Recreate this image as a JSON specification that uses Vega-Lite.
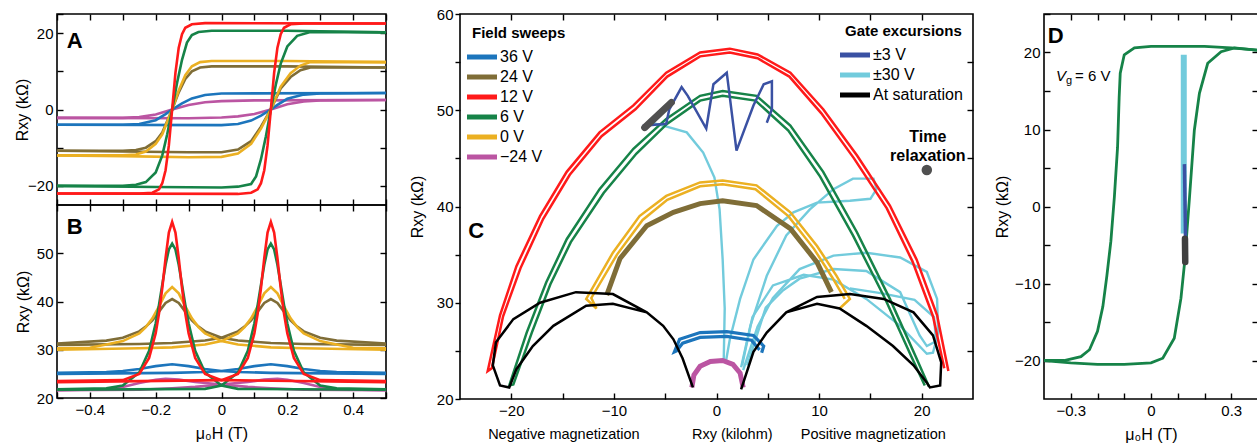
{
"$schema":"https://vega.github.io/schema/vega-lite/v6.json",
"background":"white",
"padding":{"left":13,"top":6,"right":0,"bottom":0},
"config":{
 "font":"Liberation Sans",
 "view":{"stroke":"black","strokeWidth":1.6},
 "axis":{"domain":false,"grid":false,"tickColor":"black","tickWidth":1.4,"tickSize":-6,"labelFontSize":15,"labelColor":"black","labelPadding":10,"labelFlush":false,"labelOverlap":false,"titleFontSize":16,"titleFontWeight":"normal","titleColor":"black"},
 "legend":{"symbolType":"M-2,0H2","symbolSize":225,"symbolStrokeWidth":5,"labelFontSize":16,"labelColor":"black","titleFontSize":15,"titleFontWeight":"bold","titleColor":"black","rowPadding":0,"titlePadding":6,"labelOffset":8,"padding":0}
},
"datasets":{
"dA":[
{"s":"−24 V","b":"d","x":-0.5,"y":-2.2},{"s":"−24 V","b":"d","x":-0.3,"y":-2.2},{"s":"−24 V","b":"d","x":-0.25,"y":-2},{"s":"−24 V","b":"d","x":-0.2,"y":-1.3},{"s":"−24 V","b":"d","x":-0.15,"y":0},{"s":"−24 V","b":"d","x":-0.1,"y":1.2},{"s":"−24 V","b":"d","x":-0.05,"y":1.9},{"s":"−24 V","b":"d","x":0,"y":2.2},{"s":"−24 V","b":"d","x":0.1,"y":2.4},{"s":"−24 V","b":"d","x":0.5,"y":2.5},
{"s":"−24 V","b":"u","x":-0.5,"y":-2.2},{"s":"−24 V","b":"u","x":-0.1,"y":-2.3},{"s":"−24 V","b":"u","x":0,"y":-2.1},{"s":"−24 V","b":"u","x":0.05,"y":-1.8},{"s":"−24 V","b":"u","x":0.1,"y":-1.2},{"s":"−24 V","b":"u","x":0.15,"y":0},{"s":"−24 V","b":"u","x":0.2,"y":1.4},{"s":"−24 V","b":"u","x":0.25,"y":2.1},{"s":"−24 V","b":"u","x":0.3,"y":2.4},{"s":"−24 V","b":"u","x":0.5,"y":2.5},
{"s":"36 V","b":"d","x":-0.5,"y":-4},{"s":"36 V","b":"d","x":-0.3,"y":-4},{"s":"36 V","b":"d","x":-0.25,"y":-3.8},{"s":"36 V","b":"d","x":-0.2,"y":-2.8},{"s":"36 V","b":"d","x":-0.17,"y":-1.2},{"s":"36 V","b":"d","x":-0.15,"y":0},{"s":"36 V","b":"d","x":-0.12,"y":1.6},{"s":"36 V","b":"d","x":-0.09,"y":2.9},{"s":"36 V","b":"d","x":-0.05,"y":3.8},{"s":"36 V","b":"d","x":0,"y":4.2},{"s":"36 V","b":"d","x":0.5,"y":4.3},
{"s":"36 V","b":"u","x":-0.5,"y":-4},{"s":"36 V","b":"u","x":0,"y":-4.1},{"s":"36 V","b":"u","x":0.05,"y":-3.8},{"s":"36 V","b":"u","x":0.09,"y":-2.9},{"s":"36 V","b":"u","x":0.12,"y":-1.6},{"s":"36 V","b":"u","x":0.15,"y":0},{"s":"36 V","b":"u","x":0.17,"y":1.2},{"s":"36 V","b":"u","x":0.2,"y":2.8},{"s":"36 V","b":"u","x":0.25,"y":3.9},{"s":"36 V","b":"u","x":0.3,"y":4.2},{"s":"36 V","b":"u","x":0.5,"y":4.3},
{"s":"24 V","b":"d","x":-0.5,"y":-10.8},{"s":"24 V","b":"d","x":-0.3,"y":-10.8},{"s":"24 V","b":"d","x":-0.26,"y":-10.6},{"s":"24 V","b":"d","x":-0.23,"y":-10},{"s":"24 V","b":"d","x":-0.2,"y":-8.3},{"s":"24 V","b":"d","x":-0.18,"y":-6},{"s":"24 V","b":"d","x":-0.15,"y":0},{"s":"24 V","b":"d","x":-0.13,"y":4.5},{"s":"24 V","b":"d","x":-0.11,"y":8},{"s":"24 V","b":"d","x":-0.09,"y":10},{"s":"24 V","b":"d","x":-0.065,"y":11},{"s":"24 V","b":"d","x":-0.03,"y":11.3},{"s":"24 V","b":"d","x":0.2,"y":11.3},{"s":"24 V","b":"d","x":0.5,"y":11},
{"s":"24 V","b":"u","x":-0.5,"y":-10.8},{"s":"24 V","b":"u","x":-0.1,"y":-11.2},{"s":"24 V","b":"u","x":0,"y":-11.2},{"s":"24 V","b":"u","x":0.05,"y":-10.5},{"s":"24 V","b":"u","x":0.09,"y":-8.3},{"s":"24 V","b":"u","x":0.12,"y":-4.5},{"s":"24 V","b":"u","x":0.15,"y":0},{"s":"24 V","b":"u","x":0.18,"y":5.5},{"s":"24 V","b":"u","x":0.21,"y":8.5},{"s":"24 V","b":"u","x":0.24,"y":10.3},{"s":"24 V","b":"u","x":0.27,"y":11},{"s":"24 V","b":"u","x":0.5,"y":11},
{"s":"0 V","b":"d","x":-0.5,"y":-12},{"s":"0 V","b":"d","x":-0.3,"y":-12},{"s":"0 V","b":"d","x":-0.26,"y":-11.8},{"s":"0 V","b":"d","x":-0.23,"y":-11},{"s":"0 V","b":"d","x":-0.2,"y":-9},{"s":"0 V","b":"d","x":-0.18,"y":-6.5},{"s":"0 V","b":"d","x":-0.15,"y":0},{"s":"0 V","b":"d","x":-0.13,"y":5},{"s":"0 V","b":"d","x":-0.11,"y":9},{"s":"0 V","b":"d","x":-0.09,"y":11.3},{"s":"0 V","b":"d","x":-0.065,"y":12.4},{"s":"0 V","b":"d","x":-0.03,"y":12.7},{"s":"0 V","b":"d","x":0.2,"y":12.7},{"s":"0 V","b":"d","x":0.5,"y":12.4},
{"s":"0 V","b":"u","x":-0.5,"y":-12},{"s":"0 V","b":"u","x":-0.3,"y":-12.2},{"s":"0 V","b":"u","x":-0.1,"y":-12.5},{"s":"0 V","b":"u","x":0,"y":-12.4},{"s":"0 V","b":"u","x":0.05,"y":-11.5},{"s":"0 V","b":"u","x":0.09,"y":-9},{"s":"0 V","b":"u","x":0.12,"y":-5},{"s":"0 V","b":"u","x":0.15,"y":0},{"s":"0 V","b":"u","x":0.18,"y":6},{"s":"0 V","b":"u","x":0.21,"y":9.5},{"s":"0 V","b":"u","x":0.24,"y":11.5},{"s":"0 V","b":"u","x":0.27,"y":12.4},{"s":"0 V","b":"u","x":0.5,"y":12.4},
{"s":"6 V","b":"d","x":-0.5,"y":-20},{"s":"6 V","b":"d","x":-0.3,"y":-20},{"s":"6 V","b":"d","x":-0.26,"y":-19.7},{"s":"6 V","b":"d","x":-0.23,"y":-19},{"s":"6 V","b":"d","x":-0.2,"y":-16.5},{"s":"6 V","b":"d","x":-0.18,"y":-12},{"s":"6 V","b":"d","x":-0.165,"y":-6.5},{"s":"6 V","b":"d","x":-0.15,"y":0},{"s":"6 V","b":"d","x":-0.135,"y":7},{"s":"6 V","b":"d","x":-0.12,"y":13},{"s":"6 V","b":"d","x":-0.105,"y":17.5},{"s":"6 V","b":"d","x":-0.09,"y":19.5},{"s":"6 V","b":"d","x":-0.07,"y":20.3},{"s":"6 V","b":"d","x":-0.03,"y":20.6},{"s":"6 V","b":"d","x":0.2,"y":20.6},{"s":"6 V","b":"d","x":0.5,"y":20.2},
{"s":"6 V","b":"u","x":-0.5,"y":-20},{"s":"6 V","b":"u","x":-0.2,"y":-20.3},{"s":"6 V","b":"u","x":0,"y":-20.4},{"s":"6 V","b":"u","x":0.05,"y":-20.2},{"s":"6 V","b":"u","x":0.09,"y":-19.5},{"s":"6 V","b":"u","x":0.105,"y":-17.5},{"s":"6 V","b":"u","x":0.12,"y":-13},{"s":"6 V","b":"u","x":0.135,"y":-7},{"s":"6 V","b":"u","x":0.15,"y":0},{"s":"6 V","b":"u","x":0.165,"y":6.5},{"s":"6 V","b":"u","x":0.18,"y":12},{"s":"6 V","b":"u","x":0.2,"y":16.5},{"s":"6 V","b":"u","x":0.23,"y":19.3},{"s":"6 V","b":"u","x":0.27,"y":20.3},{"s":"6 V","b":"u","x":0.5,"y":20.2},
{"s":"12 V","b":"d","x":-0.5,"y":-22},{"s":"12 V","b":"d","x":-0.25,"y":-22},{"s":"12 V","b":"d","x":-0.21,"y":-21.8},{"s":"12 V","b":"d","x":-0.19,"y":-20.9},{"s":"12 V","b":"d","x":-0.18,"y":-19.3},{"s":"12 V","b":"d","x":-0.17,"y":-15.9},{"s":"12 V","b":"d","x":-0.16,"y":-9.4},{"s":"12 V","b":"d","x":-0.15,"y":0},{"s":"12 V","b":"d","x":-0.14,"y":9.6},{"s":"12 V","b":"d","x":-0.13,"y":16.2},{"s":"12 V","b":"d","x":-0.12,"y":19.7},{"s":"12 V","b":"d","x":-0.11,"y":21.4},{"s":"12 V","b":"d","x":-0.09,"y":22.3},{"s":"12 V","b":"d","x":-0.05,"y":22.6},{"s":"12 V","b":"d","x":0.5,"y":22.5},
{"s":"12 V","b":"u","x":-0.5,"y":-22},{"s":"12 V","b":"u","x":0.05,"y":-22.1},{"s":"12 V","b":"u","x":0.09,"y":-21.8},{"s":"12 V","b":"u","x":0.11,"y":-20.9},{"s":"12 V","b":"u","x":0.12,"y":-19.3},{"s":"12 V","b":"u","x":0.13,"y":-15.9},{"s":"12 V","b":"u","x":0.14,"y":-9.4},{"s":"12 V","b":"u","x":0.15,"y":0},{"s":"12 V","b":"u","x":0.16,"y":9.6},{"s":"12 V","b":"u","x":0.17,"y":16.2},{"s":"12 V","b":"u","x":0.18,"y":19.7},{"s":"12 V","b":"u","x":0.19,"y":21.4},{"s":"12 V","b":"u","x":0.21,"y":22.3},{"s":"12 V","b":"u","x":0.25,"y":22.5},{"s":"12 V","b":"u","x":0.5,"y":22.5}
],
"dB":[
{"s":"−24 V","b":"d","x":-0.5,"y":21.6},{"s":"−24 V","b":"d","x":-0.35,"y":21.8},{"s":"−24 V","b":"d","x":-0.3,"y":22.3},{"s":"−24 V","b":"d","x":-0.25,"y":23.1},{"s":"−24 V","b":"d","x":-0.2,"y":23.8},{"s":"−24 V","b":"d","x":-0.17,"y":24},{"s":"−24 V","b":"d","x":-0.13,"y":23.8},{"s":"−24 V","b":"d","x":-0.08,"y":23.3},{"s":"−24 V","b":"d","x":0,"y":22.8},{"s":"−24 V","b":"d","x":0.08,"y":22.3},{"s":"−24 V","b":"d","x":0.15,"y":22},{"s":"−24 V","b":"d","x":0.25,"y":21.7},{"s":"−24 V","b":"d","x":0.5,"y":21.6},
{"s":"−24 V","b":"u","x":-0.5,"y":21.6},{"s":"−24 V","b":"u","x":-0.25,"y":21.7},{"s":"−24 V","b":"u","x":-0.15,"y":22},{"s":"−24 V","b":"u","x":-0.08,"y":22.3},{"s":"−24 V","b":"u","x":0,"y":22.8},{"s":"−24 V","b":"u","x":0.08,"y":23.3},{"s":"−24 V","b":"u","x":0.13,"y":23.8},{"s":"−24 V","b":"u","x":0.17,"y":24},{"s":"−24 V","b":"u","x":0.2,"y":23.8},{"s":"−24 V","b":"u","x":0.25,"y":23.1},{"s":"−24 V","b":"u","x":0.3,"y":22.3},{"s":"−24 V","b":"u","x":0.35,"y":21.8},{"s":"−24 V","b":"u","x":0.5,"y":21.6},
{"s":"36 V","b":"d","x":-0.5,"y":25.2},{"s":"36 V","b":"d","x":-0.35,"y":25.4},{"s":"36 V","b":"d","x":-0.3,"y":25.6},{"s":"36 V","b":"d","x":-0.25,"y":26},{"s":"36 V","b":"d","x":-0.2,"y":26.6},{"s":"36 V","b":"d","x":-0.15,"y":27},{"s":"36 V","b":"d","x":-0.1,"y":26.6},{"s":"36 V","b":"d","x":-0.05,"y":26},{"s":"36 V","b":"d","x":0,"y":25.6},{"s":"36 V","b":"d","x":0.05,"y":25.4},{"s":"36 V","b":"d","x":0.15,"y":25.2},{"s":"36 V","b":"d","x":0.5,"y":25},
{"s":"36 V","b":"u","x":-0.5,"y":25},{"s":"36 V","b":"u","x":-0.15,"y":25.2},{"s":"36 V","b":"u","x":-0.05,"y":25.4},{"s":"36 V","b":"u","x":0,"y":25.6},{"s":"36 V","b":"u","x":0.05,"y":26},{"s":"36 V","b":"u","x":0.1,"y":26.6},{"s":"36 V","b":"u","x":0.15,"y":27},{"s":"36 V","b":"u","x":0.2,"y":26.6},{"s":"36 V","b":"u","x":0.25,"y":26},{"s":"36 V","b":"u","x":0.3,"y":25.6},{"s":"36 V","b":"u","x":0.35,"y":25.4},{"s":"36 V","b":"u","x":0.5,"y":25.2},
{"s":"24 V","b":"d","x":-0.5,"y":31.3},{"s":"24 V","b":"d","x":-0.35,"y":31.9},{"s":"24 V","b":"d","x":-0.3,"y":32.5},{"s":"24 V","b":"d","x":-0.25,"y":33.8},{"s":"24 V","b":"d","x":-0.23,"y":34.8},{"s":"24 V","b":"d","x":-0.21,"y":36.1},{"s":"24 V","b":"d","x":-0.19,"y":37.9},{"s":"24 V","b":"d","x":-0.17,"y":39.7},{"s":"24 V","b":"d","x":-0.15,"y":40.5},{"s":"24 V","b":"d","x":-0.13,"y":39.7},{"s":"24 V","b":"d","x":-0.11,"y":37.9},{"s":"24 V","b":"d","x":-0.09,"y":36.1},{"s":"24 V","b":"d","x":-0.07,"y":34.8},{"s":"24 V","b":"d","x":-0.05,"y":33.8},{"s":"24 V","b":"d","x":0,"y":32.5},{"s":"24 V","b":"d","x":0.05,"y":31.9},{"s":"24 V","b":"d","x":0.15,"y":31.4},{"s":"24 V","b":"d","x":0.25,"y":31.2},{"s":"24 V","b":"d","x":0.5,"y":31},
{"s":"24 V","b":"u","x":-0.5,"y":31},{"s":"24 V","b":"u","x":-0.25,"y":31.2},{"s":"24 V","b":"u","x":-0.15,"y":31.4},{"s":"24 V","b":"u","x":-0.05,"y":31.9},{"s":"24 V","b":"u","x":0,"y":32.5},{"s":"24 V","b":"u","x":0.05,"y":33.8},{"s":"24 V","b":"u","x":0.07,"y":34.8},{"s":"24 V","b":"u","x":0.09,"y":36.1},{"s":"24 V","b":"u","x":0.11,"y":37.9},{"s":"24 V","b":"u","x":0.13,"y":39.7},{"s":"24 V","b":"u","x":0.15,"y":40.5},{"s":"24 V","b":"u","x":0.17,"y":39.7},{"s":"24 V","b":"u","x":0.19,"y":37.9},{"s":"24 V","b":"u","x":0.21,"y":36.1},{"s":"24 V","b":"u","x":0.23,"y":34.8},{"s":"24 V","b":"u","x":0.25,"y":33.8},{"s":"24 V","b":"u","x":0.3,"y":32.5},{"s":"24 V","b":"u","x":0.35,"y":31.9},{"s":"24 V","b":"u","x":0.5,"y":31.3},
{"s":"0 V","b":"d","x":-0.5,"y":30.3},{"s":"0 V","b":"d","x":-0.4,"y":30.4},{"s":"0 V","b":"d","x":-0.35,"y":31.1},{"s":"0 V","b":"d","x":-0.3,"y":31.8},{"s":"0 V","b":"d","x":-0.25,"y":33.4},{"s":"0 V","b":"d","x":-0.23,"y":34.7},{"s":"0 V","b":"d","x":-0.21,"y":36.5},{"s":"0 V","b":"d","x":-0.19,"y":39},{"s":"0 V","b":"d","x":-0.17,"y":41.7},{"s":"0 V","b":"d","x":-0.15,"y":43},{"s":"0 V","b":"d","x":-0.13,"y":41.7},{"s":"0 V","b":"d","x":-0.11,"y":39},{"s":"0 V","b":"d","x":-0.09,"y":36.5},{"s":"0 V","b":"d","x":-0.07,"y":34.7},{"s":"0 V","b":"d","x":-0.05,"y":33.4},{"s":"0 V","b":"d","x":0,"y":31.8},{"s":"0 V","b":"d","x":0.05,"y":31.1},{"s":"0 V","b":"d","x":0.15,"y":30.5},{"s":"0 V","b":"d","x":0.25,"y":30.3},{"s":"0 V","b":"d","x":0.5,"y":30},
{"s":"0 V","b":"u","x":-0.5,"y":30},{"s":"0 V","b":"u","x":-0.25,"y":30.3},{"s":"0 V","b":"u","x":-0.15,"y":30.5},{"s":"0 V","b":"u","x":-0.05,"y":31.1},{"s":"0 V","b":"u","x":0,"y":31.8},{"s":"0 V","b":"u","x":0.05,"y":33.4},{"s":"0 V","b":"u","x":0.07,"y":34.7},{"s":"0 V","b":"u","x":0.09,"y":36.5},{"s":"0 V","b":"u","x":0.11,"y":39},{"s":"0 V","b":"u","x":0.13,"y":41.7},{"s":"0 V","b":"u","x":0.15,"y":43},{"s":"0 V","b":"u","x":0.17,"y":41.7},{"s":"0 V","b":"u","x":0.19,"y":39},{"s":"0 V","b":"u","x":0.21,"y":36.5},{"s":"0 V","b":"u","x":0.23,"y":34.7},{"s":"0 V","b":"u","x":0.25,"y":33.4},{"s":"0 V","b":"u","x":0.3,"y":31.8},{"s":"0 V","b":"u","x":0.35,"y":31.1},{"s":"0 V","b":"u","x":0.4,"y":30.4},{"s":"0 V","b":"u","x":0.5,"y":30.3},
{"s":"6 V","b":"d","x":-0.5,"y":21.8},{"s":"6 V","b":"d","x":-0.35,"y":22},{"s":"6 V","b":"d","x":-0.3,"y":22.6},{"s":"6 V","b":"d","x":-0.25,"y":25.3},{"s":"6 V","b":"d","x":-0.22,"y":29.8},{"s":"6 V","b":"d","x":-0.2,"y":35.5},{"s":"6 V","b":"d","x":-0.19,"y":39.3},{"s":"6 V","b":"d","x":-0.18,"y":43.5},{"s":"6 V","b":"d","x":-0.17,"y":47.6},{"s":"6 V","b":"d","x":-0.16,"y":50.8},{"s":"6 V","b":"d","x":-0.15,"y":52},{"s":"6 V","b":"d","x":-0.14,"y":50.8},{"s":"6 V","b":"d","x":-0.13,"y":47.6},{"s":"6 V","b":"d","x":-0.12,"y":43.5},{"s":"6 V","b":"d","x":-0.11,"y":39.3},{"s":"6 V","b":"d","x":-0.1,"y":35.5},{"s":"6 V","b":"d","x":-0.08,"y":29.8},{"s":"6 V","b":"d","x":-0.05,"y":25.3},{"s":"6 V","b":"d","x":0,"y":22.6},{"s":"6 V","b":"d","x":0.05,"y":21.9},{"s":"6 V","b":"d","x":0.5,"y":21.7},
{"s":"6 V","b":"u","x":-0.5,"y":21.7},{"s":"6 V","b":"u","x":-0.05,"y":21.9},{"s":"6 V","b":"u","x":0,"y":22.6},{"s":"6 V","b":"u","x":0.05,"y":25.3},{"s":"6 V","b":"u","x":0.08,"y":29.8},{"s":"6 V","b":"u","x":0.1,"y":35.5},{"s":"6 V","b":"u","x":0.11,"y":39.3},{"s":"6 V","b":"u","x":0.12,"y":43.5},{"s":"6 V","b":"u","x":0.13,"y":47.6},{"s":"6 V","b":"u","x":0.14,"y":50.8},{"s":"6 V","b":"u","x":0.15,"y":52},{"s":"6 V","b":"u","x":0.16,"y":50.8},{"s":"6 V","b":"u","x":0.17,"y":47.6},{"s":"6 V","b":"u","x":0.18,"y":43.5},{"s":"6 V","b":"u","x":0.19,"y":39.3},{"s":"6 V","b":"u","x":0.2,"y":35.5},{"s":"6 V","b":"u","x":0.22,"y":29.8},{"s":"6 V","b":"u","x":0.25,"y":25.3},{"s":"6 V","b":"u","x":0.3,"y":22.6},{"s":"6 V","b":"u","x":0.35,"y":22},{"s":"6 V","b":"u","x":0.5,"y":21.8},
{"s":"12 V","b":"d","x":-0.5,"y":23.5},{"s":"12 V","b":"d","x":-0.3,"y":23.7},{"s":"12 V","b":"d","x":-0.25,"y":25},{"s":"12 V","b":"d","x":-0.22,"y":28.3},{"s":"12 V","b":"d","x":-0.2,"y":33.4},{"s":"12 V","b":"d","x":-0.19,"y":37.5},{"s":"12 V","b":"d","x":-0.18,"y":42.8},{"s":"12 V","b":"d","x":-0.17,"y":49},{"s":"12 V","b":"d","x":-0.16,"y":54.3},{"s":"12 V","b":"d","x":-0.15,"y":56.5},{"s":"12 V","b":"d","x":-0.14,"y":54.3},{"s":"12 V","b":"d","x":-0.13,"y":49},{"s":"12 V","b":"d","x":-0.12,"y":42.8},{"s":"12 V","b":"d","x":-0.11,"y":37.5},{"s":"12 V","b":"d","x":-0.1,"y":33.4},{"s":"12 V","b":"d","x":-0.08,"y":28.3},{"s":"12 V","b":"d","x":-0.05,"y":25},{"s":"12 V","b":"d","x":0,"y":23.7},{"s":"12 V","b":"d","x":0.5,"y":23.3},
{"s":"12 V","b":"u","x":-0.5,"y":23.3},{"s":"12 V","b":"u","x":0,"y":23.7},{"s":"12 V","b":"u","x":0.05,"y":25},{"s":"12 V","b":"u","x":0.08,"y":28.3},{"s":"12 V","b":"u","x":0.1,"y":33.4},{"s":"12 V","b":"u","x":0.11,"y":37.5},{"s":"12 V","b":"u","x":0.12,"y":42.8},{"s":"12 V","b":"u","x":0.13,"y":49},{"s":"12 V","b":"u","x":0.14,"y":54.3},{"s":"12 V","b":"u","x":0.15,"y":56.5},{"s":"12 V","b":"u","x":0.16,"y":54.3},{"s":"12 V","b":"u","x":0.17,"y":49},{"s":"12 V","b":"u","x":0.18,"y":42.8},{"s":"12 V","b":"u","x":0.19,"y":37.5},{"s":"12 V","b":"u","x":0.2,"y":33.4},{"s":"12 V","b":"u","x":0.22,"y":28.3},{"s":"12 V","b":"u","x":0.25,"y":25},{"s":"12 V","b":"u","x":0.3,"y":23.7},{"s":"12 V","b":"u","x":0.5,"y":23.5}
],
"dC":[
{"s":"±30 V","b":"c1","x":-6.7,"y":48.8},{"s":"±30 V","b":"c1","x":-5.2,"y":48.4},{"s":"±30 V","b":"c1","x":-2.9,"y":47.7},{"s":"±30 V","b":"c1","x":-1.3,"y":45.6},{"s":"±30 V","b":"c1","x":-0.2,"y":43},{"s":"±30 V","b":"c1","x":0.3,"y":39.7},{"s":"±30 V","b":"c1","x":0.6,"y":34.5},{"s":"±30 V","b":"c1","x":0.8,"y":29.4},{"s":"±30 V","b":"c1","x":0.7,"y":23.8},
{"s":"±30 V","b":"c2","x":2.4,"y":23.3},{"s":"±30 V","b":"c2","x":3.3,"y":27.6},{"s":"±30 V","b":"c2","x":4.9,"y":32.8},{"s":"±30 V","b":"c2","x":6.8,"y":37},{"s":"±30 V","b":"c2","x":9.1,"y":39.7},{"s":"±30 V","b":"c2","x":11.4,"y":41.8},{"s":"±30 V","b":"c2","x":13.3,"y":42.9},{"s":"±30 V","b":"c2","x":15.3,"y":42.9},{"s":"±30 V","b":"c2","x":15.6,"y":41.8},{"s":"±30 V","b":"c2","x":15,"y":40.8},{"s":"±30 V","b":"c2","x":13,"y":40.6},{"s":"±30 V","b":"c2","x":9.8,"y":40.4},{"s":"±30 V","b":"c2","x":7.5,"y":39.4},{"s":"±30 V","b":"c2","x":5.9,"y":38},{"s":"±30 V","b":"c2","x":3.6,"y":34.5},{"s":"±30 V","b":"c2","x":2.3,"y":30.4},{"s":"±30 V","b":"c2","x":1.3,"y":26.2},{"s":"±30 V","b":"c2","x":0.9,"y":23.8},
{"s":"±30 V","b":"c3","x":2.6,"y":23},{"s":"±30 V","b":"c3","x":4,"y":27.5},{"s":"±30 V","b":"c3","x":5.5,"y":30.5},{"s":"±30 V","b":"c3","x":8.1,"y":33.5},{"s":"±30 V","b":"c3","x":11.4,"y":34.9},{"s":"±30 V","b":"c3","x":14.6,"y":35.2},{"s":"±30 V","b":"c3","x":17.9,"y":34.7},{"s":"±30 V","b":"c3","x":20.5,"y":33.2},{"s":"±30 V","b":"c3","x":21.5,"y":30.4},{"s":"±30 V","b":"c3","x":21.6,"y":26.9},{"s":"±30 V","b":"c3","x":21.1,"y":24.8},{"s":"±30 V","b":"c3","x":20.5,"y":24.7},{"s":"±30 V","b":"c3","x":17.9,"y":27.6},{"s":"±30 V","b":"c3","x":14.6,"y":30.4},{"s":"±30 V","b":"c3","x":11.4,"y":32.4},{"s":"±30 V","b":"c3","x":8.5,"y":32.9},{"s":"±30 V","b":"c3","x":5.5,"y":31.8},{"s":"±30 V","b":"c3","x":3.5,"y":28.5},{"s":"±30 V","b":"c3","x":2.5,"y":23.5},
{"s":"±30 V","b":"c4","x":3,"y":23.5},{"s":"±30 V","b":"c4","x":4.8,"y":29.5},{"s":"±30 V","b":"c4","x":6.5,"y":31.3},{"s":"±30 V","b":"c4","x":8.1,"y":32.5},{"s":"±30 V","b":"c4","x":11.4,"y":33.5},{"s":"±30 V","b":"c4","x":14.6,"y":33.3},{"s":"±30 V","b":"c4","x":17.9,"y":31.1},{"s":"±30 V","b":"c4","x":19.8,"y":26.6},{"s":"±30 V","b":"c4","x":20.5,"y":25.5},{"s":"±30 V","b":"c4","x":21.4,"y":26},{"s":"±30 V","b":"c4","x":21.2,"y":28.5},{"s":"±30 V","b":"c4","x":19.3,"y":30.3},{"s":"±30 V","b":"c4","x":16,"y":31},{"s":"±30 V","b":"c4","x":13,"y":31.5},
{"s":"12 V","b":"a","x":22.6,"y":22.9},{"s":"12 V","b":"a","x":21.5,"y":28.7},{"s":"12 V","b":"a","x":19.5,"y":34.5},{"s":"12 V","b":"a","x":16.9,"y":40.1},{"s":"12 V","b":"a","x":13.7,"y":45.3},{"s":"12 V","b":"a","x":10.4,"y":50.1},{"s":"12 V","b":"a","x":7.2,"y":53.9},{"s":"12 V","b":"a","x":4,"y":55.8},{"s":"12 V","b":"a","x":1.3,"y":56.4},{"s":"12 V","b":"a","x":-1.6,"y":56},{"s":"12 V","b":"a","x":-4.9,"y":53.9},{"s":"12 V","b":"a","x":-8.1,"y":50.5},{"s":"12 V","b":"a","x":-11.4,"y":47.7},{"s":"12 V","b":"a","x":-14.6,"y":43.6},{"s":"12 V","b":"a","x":-17.2,"y":39},{"s":"12 V","b":"a","x":-19.5,"y":33.8},{"s":"12 V","b":"a","x":-21.1,"y":28.7},{"s":"12 V","b":"a","x":-22.3,"y":22.9},{"s":"12 V","b":"a","x":-21.9,"y":23.2},{"s":"12 V","b":"a","x":-20.8,"y":28.6},{"s":"12 V","b":"a","x":-19.1,"y":33.6},{"s":"12 V","b":"a","x":-16.9,"y":38.7},{"s":"12 V","b":"a","x":-14.3,"y":43.3},{"s":"12 V","b":"a","x":-11.2,"y":47.3},{"s":"12 V","b":"a","x":-7.9,"y":50.1},{"s":"12 V","b":"a","x":-4.8,"y":53.5},{"s":"12 V","b":"a","x":-1.6,"y":55.6},{"s":"12 V","b":"a","x":1.3,"y":56},{"s":"12 V","b":"a","x":4,"y":55.4},{"s":"12 V","b":"a","x":7.1,"y":53.5},{"s":"12 V","b":"a","x":10.2,"y":49.7},{"s":"12 V","b":"a","x":13.4,"y":45},{"s":"12 V","b":"a","x":16.6,"y":39.8},{"s":"12 V","b":"a","x":19.1,"y":34.3},{"s":"12 V","b":"a","x":21.1,"y":28.6},{"s":"12 V","b":"a","x":22.2,"y":23.2},
{"s":"6 V","b":"a","x":20.7,"y":21.3},{"s":"6 V","b":"a","x":19.5,"y":24.2},{"s":"6 V","b":"a","x":16.9,"y":30.4},{"s":"6 V","b":"a","x":13.7,"y":37.3},{"s":"6 V","b":"a","x":10.4,"y":43.6},{"s":"6 V","b":"a","x":7.2,"y":48.4},{"s":"6 V","b":"a","x":3.9,"y":51.5},{"s":"6 V","b":"a","x":0.6,"y":52},{"s":"6 V","b":"a","x":-1.6,"y":51.5},{"s":"6 V","b":"a","x":-4.9,"y":49.1},{"s":"6 V","b":"a","x":-8.1,"y":46},{"s":"6 V","b":"a","x":-11.4,"y":41.8},{"s":"6 V","b":"a","x":-14.6,"y":36.6},{"s":"6 V","b":"a","x":-16.6,"y":32.1},{"s":"6 V","b":"a","x":-18.5,"y":26.9},{"s":"6 V","b":"a","x":-20.2,"y":21.4},{"s":"6 V","b":"a","x":-19.8,"y":21.5},{"s":"6 V","b":"a","x":-18,"y":26.9},{"s":"6 V","b":"a","x":-16.2,"y":31.9},{"s":"6 V","b":"a","x":-14.2,"y":36.3},{"s":"6 V","b":"a","x":-11,"y":41.4},{"s":"6 V","b":"a","x":-7.8,"y":45.5},{"s":"6 V","b":"a","x":-4.8,"y":48.6},{"s":"6 V","b":"a","x":-1.6,"y":51},{"s":"6 V","b":"a","x":0.6,"y":51.5},{"s":"6 V","b":"a","x":3.8,"y":51},{"s":"6 V","b":"a","x":7,"y":47.9},{"s":"6 V","b":"a","x":10.1,"y":43.1},{"s":"6 V","b":"a","x":13.3,"y":37},{"s":"6 V","b":"a","x":16.4,"y":30.5},{"s":"6 V","b":"a","x":19,"y":24.4},{"s":"6 V","b":"a","x":20.3,"y":21.4},
{"s":"0 V","b":"a","x":12,"y":29.4},{"s":"0 V","b":"a","x":13,"y":30.4},{"s":"0 V","b":"a","x":11.7,"y":32.8},{"s":"0 V","b":"a","x":9.8,"y":35.9},{"s":"0 V","b":"a","x":7.2,"y":39.4},{"s":"0 V","b":"a","x":3.9,"y":42.2},{"s":"0 V","b":"a","x":0.6,"y":42.7},{"s":"0 V","b":"a","x":-1.6,"y":42.5},{"s":"0 V","b":"a","x":-4.9,"y":41.1},{"s":"0 V","b":"a","x":-7.5,"y":39},{"s":"0 V","b":"a","x":-10.1,"y":35.2},{"s":"0 V","b":"a","x":-12.7,"y":30.4},{"s":"0 V","b":"a","x":-11.7,"y":29.4},{"s":"0 V","b":"a","x":-12.2,"y":30.5},{"s":"0 V","b":"a","x":-9.7,"y":35},{"s":"0 V","b":"a","x":-7.2,"y":38.6},{"s":"0 V","b":"a","x":-4.8,"y":40.7},{"s":"0 V","b":"a","x":-1.6,"y":42.1},{"s":"0 V","b":"a","x":0.6,"y":42.3},{"s":"0 V","b":"a","x":3.8,"y":41.8},{"s":"0 V","b":"a","x":7,"y":39},{"s":"0 V","b":"a","x":9.5,"y":35.6},{"s":"0 V","b":"a","x":11.3,"y":32.6},{"s":"0 V","b":"a","x":12.5,"y":30.4},
{"s":"24 V","b":"a","x":11.2,"y":31.1},{"s":"24 V","b":"a","x":9.8,"y":34.2},{"s":"24 V","b":"a","x":7.2,"y":37.7},{"s":"24 V","b":"a","x":3.9,"y":40.1},{"s":"24 V","b":"a","x":0.6,"y":40.6},{"s":"24 V","b":"a","x":-1.6,"y":40.3},{"s":"24 V","b":"a","x":-4.2,"y":39.4},{"s":"24 V","b":"a","x":-6.8,"y":38},{"s":"24 V","b":"a","x":-9.4,"y":34.6},{"s":"24 V","b":"a","x":-10.7,"y":30.8},
{"s":"36 V","b":"a","x":4.4,"y":24.8},{"s":"36 V","b":"a","x":4.6,"y":25.5},{"s":"36 V","b":"a","x":3.6,"y":26.6},{"s":"36 V","b":"a","x":1,"y":27},{"s":"36 V","b":"a","x":-1.6,"y":26.9},{"s":"36 V","b":"a","x":-3.6,"y":26.2},{"s":"36 V","b":"a","x":-4.1,"y":24.9},{"s":"36 V","b":"a","x":-3.9,"y":25},{"s":"36 V","b":"a","x":-3.3,"y":25.8},{"s":"36 V","b":"a","x":-1.6,"y":26.4},{"s":"36 V","b":"a","x":1,"y":26.5},{"s":"36 V","b":"a","x":3.4,"y":26.1},{"s":"36 V","b":"a","x":4.2,"y":25.1},
{"s":"−24 V","b":"a","x":-2.4,"y":21.2},{"s":"−24 V","b":"a","x":-2.2,"y":22.5},{"s":"−24 V","b":"a","x":-1.6,"y":23.4},{"s":"−24 V","b":"a","x":-0.6,"y":23.9},{"s":"−24 V","b":"a","x":0.6,"y":24},{"s":"−24 V","b":"a","x":1.6,"y":23.6},{"s":"−24 V","b":"a","x":2.3,"y":22.7},{"s":"−24 V","b":"a","x":2.6,"y":21.2},
{"s":"At saturation","b":"L","x":-2.3,"y":21.2},{"s":"At saturation","b":"L","x":-3.3,"y":24.2},{"s":"At saturation","b":"L","x":-4.2,"y":26.2},{"s":"At saturation","b":"L","x":-5.2,"y":27.6},{"s":"At saturation","b":"L","x":-6.8,"y":29},{"s":"At saturation","b":"L","x":-10.1,"y":30.9},{"s":"At saturation","b":"L","x":-13.7,"y":31.1},{"s":"At saturation","b":"L","x":-17.2,"y":30},{"s":"At saturation","b":"L","x":-19.8,"y":28.3},{"s":"At saturation","b":"L","x":-21.5,"y":25.9},{"s":"At saturation","b":"L","x":-21.8,"y":23.5},{"s":"At saturation","b":"L","x":-21.1,"y":21.4},{"s":"At saturation","b":"L","x":-20.2,"y":21.2},{"s":"At saturation","b":"L","x":-19.5,"y":23.1},{"s":"At saturation","b":"L","x":-17.9,"y":25.5},{"s":"At saturation","b":"L","x":-15.9,"y":27.6},{"s":"At saturation","b":"L","x":-12.7,"y":29.7},{"s":"At saturation","b":"L","x":-10.1,"y":29.9},{"s":"At saturation","b":"L","x":-6.8,"y":29},
{"s":"At saturation","b":"R","x":2.4,"y":21},{"s":"At saturation","b":"R","x":3.6,"y":24.9},{"s":"At saturation","b":"R","x":4.9,"y":26.9},{"s":"At saturation","b":"R","x":6.8,"y":29},{"s":"At saturation","b":"R","x":9.8,"y":30.6},{"s":"At saturation","b":"R","x":13,"y":30.9},{"s":"At saturation","b":"R","x":16.3,"y":30.4},{"s":"At saturation","b":"R","x":19.2,"y":29},{"s":"At saturation","b":"R","x":21.1,"y":26.6},{"s":"At saturation","b":"R","x":21.9,"y":23.8},{"s":"At saturation","b":"R","x":21.8,"y":21.4},{"s":"At saturation","b":"R","x":20.8,"y":21.2},{"s":"At saturation","b":"R","x":20.5,"y":21.7},{"s":"At saturation","b":"R","x":19.2,"y":23.5},{"s":"At saturation","b":"R","x":17.2,"y":25.5},{"s":"At saturation","b":"R","x":14.6,"y":27.6},{"s":"At saturation","b":"R","x":12,"y":29.4},{"s":"At saturation","b":"R","x":9.8,"y":29.9},{"s":"At saturation","b":"R","x":6.8,"y":29},
{"s":"±3 V","b":"z","x":-7.2,"y":48.4},{"s":"±3 V","b":"z","x":-4.9,"y":48.6},{"s":"±3 V","b":"z","x":-4.6,"y":50.1},{"s":"±3 V","b":"z","x":-3.4,"y":52.4},{"s":"±3 V","b":"z","x":-2.8,"y":51.5},{"s":"±3 V","b":"z","x":-1,"y":48.1},{"s":"±3 V","b":"z","x":-0.3,"y":52.7},{"s":"±3 V","b":"z","x":1,"y":53.9},{"s":"±3 V","b":"z","x":1.95,"y":45.8},{"s":"±3 V","b":"z","x":3.6,"y":50.5},{"s":"±3 V","b":"z","x":4.6,"y":52.7},{"s":"±3 V","b":"z","x":5.4,"y":53},{"s":"±3 V","b":"z","x":5.4,"y":50.1},{"s":"±3 V","b":"z","x":4.9,"y":48.7},
{"s":"relax","b":"r","x":-7,"y":48.2},{"s":"relax","b":"r","x":-4.4,"y":50.8}
],
"dD":[
{"s":"6 V","b":"d","x":0.4,"y":20.3},{"s":"6 V","b":"d","x":0.3,"y":20.6},{"s":"6 V","b":"d","x":0.2,"y":20.8},{"s":"6 V","b":"d","x":0.1,"y":20.8},{"s":"6 V","b":"d","x":0,"y":20.8},{"s":"6 V","b":"d","x":-0.062,"y":20.6},{"s":"6 V","b":"d","x":-0.1,"y":19.7},{"s":"6 V","b":"d","x":-0.115,"y":17.3},{"s":"6 V","b":"d","x":-0.119,"y":14.2},{"s":"6 V","b":"d","x":-0.125,"y":7.7},{"s":"6 V","b":"d","x":-0.137,"y":1.2},{"s":"6 V","b":"d","x":-0.15,"y":-4.5},{"s":"6 V","b":"d","x":-0.165,"y":-9},{"s":"6 V","b":"d","x":-0.18,"y":-13},{"s":"6 V","b":"d","x":-0.2,"y":-16.2},{"s":"6 V","b":"d","x":-0.23,"y":-18.6},{"s":"6 V","b":"d","x":-0.262,"y":-19.5},{"s":"6 V","b":"d","x":-0.325,"y":-20},{"s":"6 V","b":"d","x":-0.4,"y":-20},
{"s":"6 V","b":"u","x":-0.4,"y":-20},{"s":"6 V","b":"u","x":-0.3,"y":-20.3},{"s":"6 V","b":"u","x":-0.2,"y":-20.5},{"s":"6 V","b":"u","x":-0.1,"y":-20.5},{"s":"6 V","b":"u","x":0,"y":-20.3},{"s":"6 V","b":"u","x":0.044,"y":-19.7},{"s":"6 V","b":"u","x":0.087,"y":-17.1},{"s":"6 V","b":"u","x":0.112,"y":-11.9},{"s":"6 V","b":"u","x":0.125,"y":-7.5},{"s":"6 V","b":"u","x":0.144,"y":1.2},{"s":"6 V","b":"u","x":0.162,"y":9.9},{"s":"6 V","b":"u","x":0.181,"y":14.7},{"s":"6 V","b":"u","x":0.212,"y":18.6},{"s":"6 V","b":"u","x":0.262,"y":20.1},{"s":"6 V","b":"u","x":0.312,"y":20.6},{"s":"6 V","b":"u","x":0.4,"y":20.3},
{"s":"±30 V","b":"v","x":0.1225,"y":19.7},{"s":"±30 V","b":"v","x":0.1225,"y":-3.5},
{"s":"±3 V","b":"v","x":0.125,"y":5.5},{"s":"±3 V","b":"v","x":0.129,"y":-4},
{"s":"relax","b":"v","x":0.127,"y":-4.2},{"s":"relax","b":"v","x":0.128,"y":-7.2}
]
},
"spacing":18,
"resolve":{"scale":{"color":"independent","stroke":"independent"}},
"hconcat":[
{"vconcat":[
 {"width":329,"height":191,"data":{"name":"dA"},
  "layer":[
   {"mark":{"type":"line","strokeWidth":2.6,"order":false,"clip":true},
    "encoding":{
     "x":{"field":"x","type":"quantitative","scale":{"domain":[-0.5,0.5],"nice":false,"zero":false},"axis":{"orient":"bottom","values":[-0.5,-0.4,-0.3,-0.2,-0.1,0,0.1,0.2,0.3,0.4,0.5],"labels":false,"title":null}},
     "y":{"field":"y","type":"quantitative","scale":{"domain":[-25,25],"nice":false,"zero":false},"axis":{"orient":"left","values":[-20,-10,0,10,20,25],"format":"d","labelExpr":"datum.value == 25 ? ' ' : (datum.value % 20 == 0 ? datum.label : '')","title":"Rxy (kΩ)","titlePadding":-3}},
     "color":{"field":"s","type":"nominal","scale":{"domain":["36 V","24 V","12 V","6 V","0 V","−24 V"],"range":["#1c75bc","#7f6d37","#ff1a1a","#168348","#ebb022","#bb55a2"]},"legend":null},
     "detail":{"field":"b"}}},
   {"mark":{"type":"point","opacity":0},
    "encoding":{
     "x":{"field":"x","type":"quantitative","axis":{"orient":"top","values":[-0.5,-0.4,-0.3,-0.2,-0.1,0,0.1,0.2,0.3,0.4,0.5],"labels":false,"title":null}},
     "y":{"field":"y","type":"quantitative","axis":{"orient":"right","values":[-20,-10,0,10,20],"labels":false,"title":null}}}},
   {"data":{"values":[{}]},"mark":{"type":"text","text":"A","fontSize":22,"fontWeight":"bold","align":"left","baseline":"middle"},
    "encoding":{"x":{"datum":-0.47,"type":"quantitative","axis":null},"y":{"datum":17.9,"type":"quantitative","axis":null}}}
  ],
  "resolve":{"axis":{"x":"independent","y":"independent"}}},
 {"width":329,"height":193,"data":{"name":"dB"},
  "layer":[
   {"mark":{"type":"line","strokeWidth":2.6,"order":false,"clip":true},
    "encoding":{
     "x":{"field":"x","type":"quantitative","scale":{"domain":[-0.5,0.5],"nice":false,"zero":false},"axis":{"orient":"bottom","values":[-0.5,-0.4,-0.3,-0.2,-0.1,0,0.1,0.2,0.3,0.4,0.5],"format":".1~f","labelExpr":"round(datum.value*10) % 2 == 0 && abs(datum.value) < 0.45 ? datum.label : ''","title":"μ₀H (T)","titlePadding":8}},
     "y":{"field":"y","type":"quantitative","scale":{"domain":[20,60],"nice":false,"zero":false},"axis":{"orient":"left","values":[20,30,40,50],"format":"d","title":"Rxy (kΩ)","titlePadding":5}},
     "color":{"field":"s","type":"nominal","scale":{"domain":["36 V","24 V","12 V","6 V","0 V","−24 V"],"range":["#1c75bc","#7f6d37","#ff1a1a","#168348","#ebb022","#bb55a2"]},"legend":null},
     "detail":{"field":"b"}}},
   {"mark":{"type":"point","opacity":0},
    "encoding":{
     "x":{"field":"x","type":"quantitative","axis":{"orient":"top","values":[-0.5,-0.4,-0.3,-0.2,-0.1,0,0.1,0.2,0.3,0.4,0.5],"labels":false,"title":null}},
     "y":{"field":"y","type":"quantitative","axis":{"orient":"right","values":[20,30,40,50],"labels":false,"title":null}}}},
   {"data":{"values":[{}]},"mark":{"type":"text","text":"B","fontSize":22,"fontWeight":"bold","align":"left","baseline":"middle"},
    "encoding":{"x":{"datum":-0.47,"type":"quantitative","axis":null},"y":{"datum":55.4,"type":"quantitative","axis":null}}}
  ],
  "resolve":{"axis":{"x":"independent","y":"independent"}}}
 ],
 "spacing":0,"bounds":"flush"},
{"width":513,"height":385,"data":{"name":"dC"},
 "layer":[
  {"transform":[{"filter":"datum.s == '±30 V'"}],
   "mark":{"type":"line","strokeWidth":2.4,"order":false,"clip":true},
   "encoding":{
    "x":{"field":"x","type":"quantitative","scale":{"domain":[-25,25],"nice":false,"zero":false},"axis":{"orient":"bottom","values":[-20,-15,-10,-5,0,5,10,15,20],"format":"d","labelExpr":"datum.value % 10 == 0 ? datum.label : ''","titleFontSize":14.5,"titlePadding":9,"title":"Negative magnetization\u00a0\u00a0\u00a0\u00a0\u00a0\u00a0\u00a0\u00a0\u00a0\u00a0\u00a0\u00a0\u00a0Rxy (kilohm)\u00a0\u00a0\u00a0\u00a0\u00a0\u00a0\u00a0Positive magnetization\u00a0\u00a0"}},
    "y":{"field":"y","type":"quantitative","scale":{"domain":[20,60],"nice":false,"zero":false},"axis":{"orient":"left","values":[20,25,30,35,40,45,50,55,60],"format":"d","labelExpr":"datum.value % 10 == 0 ? datum.label : ''","tickSize":5,"labelPadding":2,"title":"Rxy (kΩ)","titlePadding":11}},
    "stroke":{"field":"s","type":"nominal","scale":{"domain":["±3 V","±30 V","At saturation"],"range":["#3a51a3","#72cbdc","#000000"]},"legend":{"title":"Gate excursions","orient":"top-right","offset":10}},
    "detail":{"field":"b"}}},
  {"transform":[{"filter":"datum.s == '12 V' || datum.s == '6 V' || datum.s == '0 V'"}],
   "mark":{"type":"line","strokeWidth":2.5,"order":false,"clip":true},
   "encoding":{
    "x":{"field":"x","type":"quantitative","axis":null},
    "y":{"field":"y","type":"quantitative","axis":null},
    "color":{"field":"s","type":"nominal","scale":{"domain":["36 V","24 V","12 V","6 V","0 V","−24 V"],"range":["#1c75bc","#7f6d37","#ff1a1a","#168348","#ebb022","#bb55a2"]},"legend":{"title":"Field sweeps","orient":"top-left","offset":12}},
    "detail":{"field":"b"}}},
  {"transform":[{"filter":"datum.s == '24 V' || datum.s == '−24 V'"}],
   "mark":{"type":"line","strokeWidth":5,"order":false,"clip":true},
   "encoding":{
    "x":{"field":"x","type":"quantitative","axis":null},
    "y":{"field":"y","type":"quantitative","axis":null},
    "color":{"field":"s","type":"nominal","scale":{"domain":["36 V","24 V","12 V","6 V","0 V","−24 V"],"range":["#1c75bc","#7f6d37","#ff1a1a","#168348","#ebb022","#bb55a2"]},"legend":{"title":"Field sweeps","orient":"top-left","offset":12}},
    "detail":{"field":"b"}}},
  {"transform":[{"filter":"datum.s == '36 V'"}],
   "mark":{"type":"line","strokeWidth":3.2,"order":false,"clip":true},
   "encoding":{
    "x":{"field":"x","type":"quantitative","axis":null},
    "y":{"field":"y","type":"quantitative","axis":null},
    "color":{"field":"s","type":"nominal","scale":{"domain":["36 V","24 V","12 V","6 V","0 V","−24 V"],"range":["#1c75bc","#7f6d37","#ff1a1a","#168348","#ebb022","#bb55a2"]},"legend":{"title":"Field sweeps","orient":"top-left","offset":12}},
    "detail":{"field":"b"}}},
  {"transform":[{"filter":"datum.s == 'At saturation' || datum.s == '±3 V'"}],
   "mark":{"type":"line","strokeWidth":2.5,"order":false,"clip":true},
   "encoding":{
    "x":{"field":"x","type":"quantitative","axis":null},
    "y":{"field":"y","type":"quantitative","axis":null},
    "stroke":{"field":"s","type":"nominal","scale":{"domain":["±3 V","±30 V","At saturation"],"range":["#3a51a3","#72cbdc","#000000"]},"legend":{"title":"Gate excursions","orient":"top-right","offset":10}},
    "detail":{"field":"b"}}},
  {"transform":[{"filter":"datum.s == 'relax'"}],
   "mark":{"type":"line","strokeWidth":7,"strokeCap":"round","color":"#505050","order":false},
   "encoding":{
    "x":{"field":"x","type":"quantitative","axis":null},
    "y":{"field":"y","type":"quantitative","axis":null}}},
  {"data":{"values":[{}]},"mark":{"type":"point","filled":true,"color":"#505050","opacity":1,"size":110},
   "encoding":{"x":{"datum":20.5,"type":"quantitative","axis":null},"y":{"datum":43.8,"type":"quantitative","axis":null}}},
  {"data":{"values":[{}]},"mark":{"type":"text","text":["Time","relaxation"],"lineHeight":19,"fontSize":16,"fontWeight":"bold","align":"center","baseline":"top"},
   "encoding":{"x":{"datum":20.6,"type":"quantitative","axis":null},"y":{"datum":48.1,"type":"quantitative","axis":null}}},
  {"data":{"values":[{}]},"mark":{"type":"text","text":"C","fontSize":22,"fontWeight":"bold","align":"left","baseline":"middle"},
   "encoding":{"x":{"datum":-24.2,"type":"quantitative","axis":null},"y":{"datum":37.45,"type":"quantitative","axis":null}}},
  {"mark":{"type":"point","opacity":0},
   "encoding":{
    "x":{"field":"x","type":"quantitative","axis":{"orient":"top","values":[-20,-15,-10,-5,0,5,10,15,20],"labels":false,"title":null}},
    "y":{"field":"y","type":"quantitative","axis":{"orient":"right","values":[25,30,35,40,45,50,55],"labels":false,"title":null}}}}
 ],
 "resolve":{"axis":{"x":"independent","y":"independent"}}},
{"width":214,"height":385,"data":{"name":"dD"},
 "layer":[
  {"transform":[{"filter":"datum.s == '6 V'"}],
   "mark":{"type":"line","strokeWidth":2.8,"color":"#168348","order":false,"clip":true},
   "encoding":{
    "x":{"field":"x","type":"quantitative","scale":{"domain":[-0.4,0.4],"nice":false,"zero":false},"axis":{"orient":"bottom","values":[-0.3,-0.2,-0.1,0,0.1,0.2,0.3],"format":".1~f","labelExpr":"round(datum.value*10) % 3 == 0 ? datum.label : ''","title":"μ₀H (T)","titlePadding":8}},
    "y":{"field":"y","type":"quantitative","scale":{"domain":[-25,25],"nice":false,"zero":false},"axis":{"orient":"left","values":[-20,-15,-10,-5,0,5,10,15,20,25],"format":"d","labelExpr":"datum.value == 25 ? ' ' : (datum.value % 10 == 0 ? datum.label : '')","title":"Rxy (kΩ)","titlePadding":4}},
    "detail":{"field":"b"}}},
  {"transform":[{"filter":"datum.s == '±30 V'"}],
   "mark":{"type":"line","strokeWidth":6,"color":"#72cbdc","order":false},
   "encoding":{"x":{"field":"x","type":"quantitative","axis":null},"y":{"field":"y","type":"quantitative","axis":null}}},
  {"transform":[{"filter":"datum.s == '±3 V'"}],
   "mark":{"type":"line","strokeWidth":3.5,"color":"#3a51a3","order":false},
   "encoding":{"x":{"field":"x","type":"quantitative","axis":null},"y":{"field":"y","type":"quantitative","axis":null}}},
  {"transform":[{"filter":"datum.s == 'relax'"}],
   "mark":{"type":"line","strokeWidth":6.5,"strokeCap":"round","color":"#404040","order":false},
   "encoding":{"x":{"field":"x","type":"quantitative","axis":null},"y":{"field":"y","type":"quantitative","axis":null}}},
  {"data":{"values":[{}]},"mark":{"type":"text","text":"D","fontSize":22,"fontWeight":"bold","align":"left","baseline":"middle"},
   "encoding":{"x":{"datum":-0.386,"type":"quantitative","axis":null},"y":{"datum":22.2,"type":"quantitative","axis":null}}},
  {"data":{"values":[{}]},"mark":{"type":"text","text":"V","fontSize":15,"fontStyle":"italic","align":"left","baseline":"middle"},
   "encoding":{"x":{"datum":-0.355,"type":"quantitative","axis":null},"y":{"datum":16.9,"type":"quantitative","axis":null}}},
  {"data":{"values":[{}]},"mark":{"type":"text","text":"g","fontSize":11,"align":"left","baseline":"middle","dx":10,"dy":5},
   "encoding":{"x":{"datum":-0.355,"type":"quantitative","axis":null},"y":{"datum":16.9,"type":"quantitative","axis":null}}},
  {"data":{"values":[{}]},"mark":{"type":"text","text":"= 6 V","fontSize":15,"align":"left","baseline":"middle","dx":19},
   "encoding":{"x":{"datum":-0.355,"type":"quantitative","axis":null},"y":{"datum":16.9,"type":"quantitative","axis":null}}},
  {"mark":{"type":"point","opacity":0},
   "encoding":{
    "x":{"field":"x","type":"quantitative","axis":{"orient":"top","values":[-0.3,-0.2,-0.1,0,0.1,0.2,0.3],"labels":false,"title":null}},
    "y":{"field":"y","type":"quantitative","axis":{"orient":"right","values":[-20,-15,-10,-5,0,5,10,15,20],"labels":false,"title":null}}}}
 ],
 "resolve":{"axis":{"x":"independent","y":"independent"}}}
]
}
